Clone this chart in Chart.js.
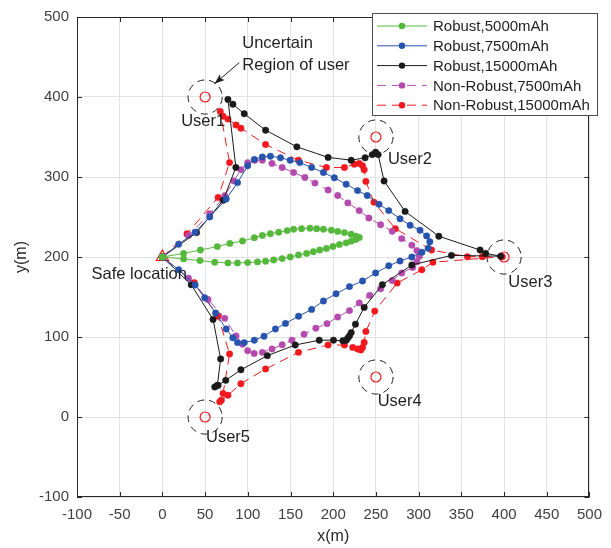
<!DOCTYPE html>
<html>
<head>
<meta charset="utf-8">
<script src="https://cdn.jsdelivr.net/npm/chart.js@4.4.1/dist/chart.umd.min.js"></script>
<style>
  html, body { margin: 0; padding: 0; background: #fff; }
  #wrap { width: 611px; height: 548px; }
</style>
</head>
<body>
<div id="wrap"><canvas id="grafica" width="611" height="548"></canvas></div>
<script>
// ticks
const xTickValues = [-100, -50, 0, 50, 100, 150, 200, 250, 300, 350, 400, 450, 500];
const yTickValues = [-100, 0, 100, 200, 300, 400, 500];

// users and safe location
const userNames = ['User1', 'User2', 'User3', 'User4', 'User5'];
const userX = [50, 250, 400, 250, 50];
const userY = [400, 350, 200, 50, 0];
const safeX = [0];
const safeY = [200];

// Robust, 5000mAh
const robust5000X = [0, 24.8, 44.5, 64.3, 79, 93.8, 107.6, 117, 126.4, 136.2, 146.1, 153.6, 162.9, 172.7, 180.6, 188.5, 197.8, 205.2, 213.1, 221, 226.6, 230.5,
  226.5, 221, 215.1, 207.2, 199.7, 192, 184.2, 176.7, 168.8, 159.3, 149.6, 140.2, 130.3, 120.8, 111.3, 99.8, 87.9, 76.7, 61.3, 44, 24.8, 0];
const robust5000Y = [200, 204.5, 208.7, 213, 217, 220, 224, 227, 229, 231, 233, 234.7, 235.4, 236, 235.4, 234.7, 233.5, 232, 230.5, 228.5, 226, 224.3,
  221.8, 219.8, 217.7, 215.6, 213.2, 210.7, 208.7, 206.6, 204.5, 202.5, 200, 198, 196.3, 194.6, 193.9, 193, 192.6, 192.6, 193.4, 195.5, 197.6, 200];

// Robust, 7500mAh
const robust7500X = [0, 19, 38.3, 55.4, 74.7, 88, 99.8, 107.6, 117, 126.4, 138.2, 149.6, 160.9, 174.7, 188.5, 201.3, 215.1, 228.5, 239.8, 253.6, 265, 278.2, 290, 301.6, 309.3, 313.1, 311.1,
  303.8, 292, 278.2, 265, 249.6, 234.3, 219, 203.3, 188.5, 174.7, 159.4, 144.1, 132.3, 119, 107.6, 95.8, 87.9, 82.5, 74.7, 62.3, 49.5, 38.3, 19, 0];
const robust7500Y = [200, 216, 231, 250, 272.5, 293, 314, 322, 325, 326, 324, 321, 318, 312, 305.6, 299, 291, 283, 276.8, 266, 258, 247.8, 239.6, 233.5, 226.4, 219, 211,
  206, 200, 195, 189, 180, 170, 163, 154, 145, 134.5, 126, 117, 110, 101, 96, 93, 93, 99, 110, 130, 149, 165, 184, 200];

// Robust, 15000mAh
const robust15000X = [0, 40, 71.2, 86, 76.7, 82.5, 95.8, 120.8, 157.4, 194, 221, 237.3, 245.7, 249.6, 252.6, 259.5, 284.1, 323.6, 371.9, 378.4, 396,
  338.4, 292, 257.5, 236.2, 226, 221, 219, 217, 215.1, 211.2, 200.3, 183.6, 155.5, 122.8, 91.9, 74.1, 65.2, 61.3, 64.3, 68.2, 59.3, 33.7, 0];
const robust15000Y = [200, 230.5, 271, 312, 397, 391, 379, 358.5, 337.7, 324.5, 321, 324, 328, 331, 328, 295, 257, 226, 208.7, 204.5, 201,
  202, 190, 165.4, 137, 116, 105.5, 101.4, 98.6, 96, 95.3, 96, 96, 90, 76.7, 59, 45.8, 39.6, 37.5, 39.6, 72.6, 122, 165.4, 200];

// Non-Robust, 7500mAh
const nonRobust7500X = [0, 30.5, 55.4, 73, 83.6, 91.9, 99.8, 108.1, 117, 128.3, 140.2, 153.6, 166.8, 178.6, 194, 205.2, 217.1, 230.4, 241.7, 255.5, 269, 280.2, 292, 297.9, 300.9,
  297.9, 293, 280.2, 269, 255.5, 242.7, 230.5, 219, 205.2, 192.7, 179.6, 165.8, 151.6, 140.2, 128.3, 117, 107.4, 99.8, 93.8, 86.2, 73, 53.4, 30.5, 0];
const nonRobust7500Y = [200, 227, 254, 276.7, 295, 309, 318, 321, 321, 317, 311.8, 305.6, 299.4, 292.4, 283.7, 276.8, 267.6, 258, 248.7, 240.4, 232.2, 223, 214.8, 208, 201,
  194, 187, 180, 170.7, 160.4, 152, 142.6, 133, 125, 116.7, 111, 103.5, 96, 90.3, 85, 80.8, 79.5, 82.9, 91, 101.4, 123.3, 147, 173.6, 200];

// Non-Robust, 15000mAh
const nonRobust15000X = [0, 28.8, 65.2, 78.6, 67.7, 71, 76.7, 86.2, 91.9, 120.8, 159.3, 192, 213.1, 224.7, 230.5, 234.3, 236.2, 238.2, 247.7, 272.7, 315.1, 357.1, 374.4, 398,
  316.7, 303.7, 274.8, 248.6, 238.2, 236.2, 234.3, 232.4, 228.5, 222.8, 213.1, 194, 159.3, 120.8, 91.9, 76.7, 69, 67.1, 71, 78.6, 65.2, 37.4, 0];
const nonRobust15000Y = [200, 229, 274.5, 318, 382, 376, 372.4, 365, 361, 340.6, 321, 311.8, 311.8, 316, 317, 314, 309, 294.5, 268.5, 235.4, 208.7, 200.4, 200.4, 200.4,
  193.4, 184, 167.4, 132.4, 106.8, 93.2, 87, 83.8, 85, 87, 90, 90, 80.8, 60, 41.6, 27.2, 21, 19, 29.3, 78.8, 126, 168, 200];

const seriesNames = ['Robust,5000mAh', 'Robust,7500mAh', 'Robust,15000mAh', 'Non-Robust,7500mAh', 'Non-Robust,15000mAh'];
const seriesColors = ['#55B83C', '#2653AD', '#1A1A1A', '#B54AAE', '#F2181D'];
const seriesDashed = [false, false, false, true, true];
const seriesX = [robust5000X, robust7500X, robust15000X, nonRobust7500X, nonRobust15000X];
const seriesY = [robust5000Y, robust7500Y, robust15000Y, nonRobust7500Y, nonRobust15000Y];

// text on the plot
const notes = [
  { text: 'Uncertain', x: 93.5, y: 467 },
  { text: 'Region of user', x: 93.5, y: 440 },
  { text: 'User1', x: 22, y: 369 },
  { text: 'User2', x: 264, y: 322 },
  { text: 'User3', x: 405, y: 168 },
  { text: 'User4', x: 252, y: 19 },
  { text: 'User5', x: 51, y: -26 },
  { text: 'Safe location', x: -83, y: 178 }
];

const FONT = '"Liberation Sans", Arial, Helvetica, sans-serif';

function puntos(xs, ys) {
  return xs.map((x, i) => ({ x, y: ys[i] }));
}

const datasets = seriesNames.map((name, i) => ({
  label: name,
  data: puntos(seriesX[i], seriesY[i]),
  showLine: true,
  borderColor: seriesColors[i],
  backgroundColor: seriesColors[i],
  borderWidth: 1,
  borderDash: seriesDashed[i] ? [9, 6] : [],
  pointRadius: 3.2,
  pointBorderWidth: 0.5,
  pointBackgroundColor: seriesColors[i],
  pointBorderColor: seriesColors[i]
}));

datasets.push({
  label: 'users',
  data: puntos(userX, userY),
  showLine: false,
  pointStyle: 'circle',
  pointRadius: 5,
  pointBorderWidth: 1.2,
  pointBorderColor: '#F2181D',
  pointBackgroundColor: 'rgba(0,0,0,0)'
});

datasets.push({
  label: 'safe',
  data: puntos(safeX, safeY),
  showLine: false,
  pointStyle: 'triangle',
  pointRadius: 7,
  pointBorderWidth: 1.2,
  pointBorderColor: '#F2181D',
  pointBackgroundColor: 'rgba(0,0,0,0)'
});

/* circulos de incertidumbre, textos, leyenda, marco y ticks hacia dentro */
const extras = {
  id: 'extras',
  beforeDatasetsDraw(chart) {
    const { ctx } = chart;
    const xs = chart.scales.x, ys = chart.scales.y;
    ctx.save();
    ctx.strokeStyle = '#222';
    ctx.lineWidth = 1;
    ctx.setLineDash([7, 5]);
    userX.forEach((ux, i) => {
      const cx = xs.getPixelForValue(ux);
      const cy = ys.getPixelForValue(userY[i]);
      const r = Math.abs(xs.getPixelForValue(ux + 20) - cx);
      ctx.beginPath();
      ctx.arc(cx, cy, r, 0, Math.PI * 2);
      ctx.stroke();
    });
    ctx.restore();
  },
  afterDraw(chart) {
    const { ctx, chartArea: a } = chart;
    const xs = chart.scales.x, ys = chart.scales.y;
    ctx.save();

    // textos
    ctx.fillStyle = '#1f1f1f';
    ctx.font = '16.5px ' + FONT;
    ctx.textAlign = 'left';
    ctx.textBaseline = 'middle';
    notes.forEach((n) => {
      ctx.fillText(n.text, xs.getPixelForValue(n.x), ys.getPixelForValue(n.y));
    });

    // flecha
    const x1 = xs.getPixelForValue(90), y1 = ys.getPixelForValue(443);
    const x2 = xs.getPixelForValue(61), y2 = ys.getPixelForValue(416.5);
    ctx.strokeStyle = '#1f1f1f';
    ctx.lineWidth = 1;
    ctx.beginPath();
    ctx.moveTo(x1, y1);
    ctx.lineTo(x2, y2);
    ctx.stroke();
    const ang = Math.atan2(y2 - y1, x2 - x1);
    ctx.beginPath();
    ctx.moveTo(x2, y2);
    ctx.lineTo(x2 - 11 * Math.cos(ang - 0.35), y2 - 11 * Math.sin(ang - 0.35));
    ctx.lineTo(x2 - 8 * Math.cos(ang), y2 - 8 * Math.sin(ang));
    ctx.lineTo(x2 - 11 * Math.cos(ang + 0.35), y2 - 11 * Math.sin(ang + 0.35));
    ctx.closePath();
    ctx.fillStyle = '#1f1f1f';
    ctx.fill();

    // marco
    ctx.strokeStyle = '#262626';
    ctx.lineWidth = 1;
    ctx.strokeRect(Math.round(a.left) + 0.5, Math.round(a.top) + 0.5, Math.round(a.right - a.left) - 1, Math.round(a.bottom - a.top) - 1);

    // ticks hacia dentro
    ctx.beginPath();
    xTickValues.forEach((v) => {
      const p = Math.round(xs.getPixelForValue(v)) + 0.5;
      ctx.moveTo(p, a.bottom); ctx.lineTo(p, a.bottom - 5);
      ctx.moveTo(p, a.top); ctx.lineTo(p, a.top + 5);
    });
    yTickValues.forEach((v) => {
      const p = Math.round(ys.getPixelForValue(v)) + 0.5;
      ctx.moveTo(a.left, p); ctx.lineTo(a.left + 5, p);
      ctx.moveTo(a.right, p); ctx.lineTo(a.right - 5, p);
    });
    ctx.stroke();

    // titulos de ejes
    ctx.fillStyle = '#262626';
    ctx.font = '16px ' + FONT;
    ctx.textAlign = 'center';
    ctx.fillText('x(m)', (a.left + a.right) / 2, 537);
    ctx.save();
    ctx.translate(22, (a.top + a.bottom) / 2);
    ctx.rotate(-Math.PI / 2);
    ctx.fillText('y(m)', 0, 0);
    ctx.restore();

    // leyenda
    const lx = 372.5, ly = 13.5, lw = 225, lh = 102;
    ctx.fillStyle = '#fff';
    ctx.fillRect(lx, ly, lw, lh);
    ctx.strokeStyle = '#4d4d4d';
    ctx.strokeRect(lx, ly, lw, lh);
    ctx.font = '15px ' + FONT;
    ctx.textAlign = 'left';
    seriesNames.forEach((name, i) => {
      const ry = 26 + i * 19.8;
      ctx.strokeStyle = seriesColors[i];
      ctx.lineWidth = 1;
      ctx.setLineDash(seriesDashed[i] ? [9, 6] : []);
      ctx.beginPath();
      ctx.moveTo(377, ry);
      ctx.lineTo(427, ry);
      ctx.stroke();
      ctx.setLineDash([]);
      ctx.fillStyle = seriesColors[i];
      ctx.beginPath();
      ctx.arc(402, ry, 3.2, 0, Math.PI * 2);
      ctx.fill();
      ctx.fillStyle = '#1f1f1f';
      ctx.fillText(name, 433, ry + 1);
    });

    ctx.restore();
  }
};

const ctx = document.getElementById('grafica').getContext('2d');
const chart = new Chart(ctx, {
  type: 'scatter',
  data: { datasets },
  options: {
    responsive: false,
    animation: false,
    devicePixelRatio: 1,
    layout: { padding: { left: 0, top: 13, right: 14, bottom: 0 } },
    plugins: {
      legend: { display: false },
      tooltip: { enabled: false }
    },
    scales: {
      x: {
        type: 'linear',
        min: -100,
        max: 500,
        afterBuildTicks: (s) => { s.ticks = xTickValues.map((v) => ({ value: v })); },
        afterFit: (s) => { s.height = 51; },
        ticks: { color: '#404040', font: { family: FONT, size: 15 }, padding: 9, maxRotation: 0, autoSkip: false },
        grid: { color: '#e3e3e3', drawTicks: false },
        border: { display: false }
      },
      y: {
        type: 'linear',
        min: -100,
        max: 500,
        afterBuildTicks: (s) => { s.ticks = yTickValues.map((v) => ({ value: v })); },
        afterFit: (s) => { s.width = 77; },
        ticks: { color: '#404040', font: { family: FONT, size: 15 }, padding: 8, autoSkip: false },
        grid: { color: '#e3e3e3', drawTicks: false },
        border: { display: false }
      }
    }
  },
  plugins: [extras]
});
</script>
</body>
</html>
